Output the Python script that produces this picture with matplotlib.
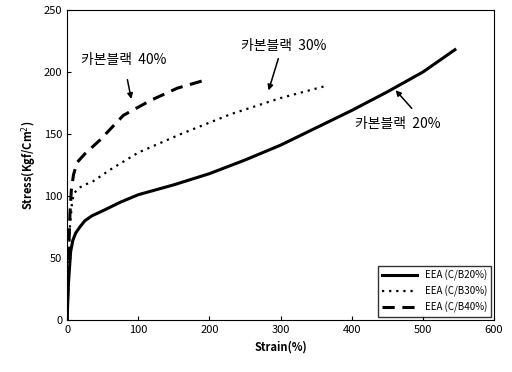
import matplotlib
matplotlib.use("Agg")
import matplotlib.pyplot as plt

plt.rcParams['font.family'] = ['Noto Sans CJK KR', 'DejaVu Sans']

# stress-strain curves
strain_20 = [0, 2, 5, 8, 12, 18, 25, 35, 50, 75, 100, 150, 200, 250, 300, 350, 400, 450, 500, 545]
stress_20 = [0, 30, 55, 64, 70, 75, 80, 84, 88, 95, 101, 109, 118, 129, 141, 155, 169, 184, 200, 218]

strain_30 = [0, 2, 4, 7, 10, 15, 25, 37, 60, 100, 160, 230, 300, 365]
stress_30 = [0, 45, 75, 95, 102, 106, 109, 112, 121, 135, 150, 166, 179, 189]

strain_40 = [0, 2, 4, 6, 9, 14, 25, 46, 79, 117, 155, 191]
stress_40 = [0, 50, 85, 105, 117, 127, 134, 145, 165, 177, 187, 193]

legend_labels = ["EEA (C/B20%)", "EEA (C/B30%)", "EEA (C/B40%)"]

fig = plt.figure(figsize=(5.12, 3.72), dpi=100)
ax = fig.add_axes([0.131, 0.140, 0.834, 0.833])

ax.plot(strain_20, stress_20, color="black", lw=2.2, linestyle="-", label=legend_labels[0])
ax.plot(strain_30, stress_30, color="black", lw=1.6, linestyle=(0, (1, 2.2)), label=legend_labels[1])
ax.plot(strain_40, stress_40, color="black", lw=2.2, linestyle=(0, (4, 2.5)), label=legend_labels[2])

arrow = dict(arrowstyle="-|>", color="black", lw=1.1, mutation_scale=8)
ax.text(20, 210, "카본블랙  40%", fontsize=10, ha="left", va="center")
ax.annotate("", xy=(91, 176), xytext=(84, 196), arrowprops=arrow)
ax.text(245, 221, "카본블랙  30%", fontsize=10, ha="left", va="center")
ax.annotate("", xy=(282, 183), xytext=(298, 213), arrowprops=arrow)
ax.text(405, 158, "카본블랙  20%", fontsize=10, ha="left", va="center")
ax.annotate("", xy=(459, 187), xytext=(487, 169), arrowprops=arrow)

ax.set_xlim(0, 600)
ax.set_ylim(0, 250)
ax.set_xticks(range(0, 601, 100))
ax.set_yticks(range(0, 251, 50))
ax.tick_params(direction="in", length=3, labelsize=8)
ax.set_xlabel("Strain(%)", fontsize=8, fontweight="bold")
ax.set_ylabel("Stress(Kgf/Cm$^2$)", fontsize=8, fontweight="bold")

leg = ax.legend(loc="lower right", fontsize=7, frameon=True, fancybox=False,
                edgecolor="black", handlelength=3.6, borderaxespad=0.3)
leg.get_frame().set_linewidth(1.0)

fig.savefig("out.png", dpi=100)
